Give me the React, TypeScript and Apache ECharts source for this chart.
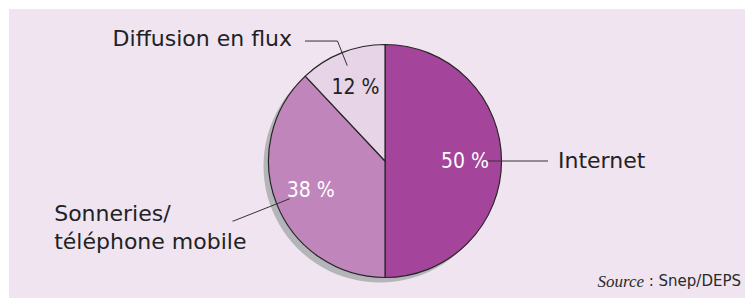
import React, { useEffect, useRef } from 'react';
import * as echarts from 'echarts';

// ---- data ----
const categories = ['Internet', 'Sonneries/\ntéléphone mobile', 'Diffusion en flux'];
const shares = [50, 38, 12];
const sourceItalic = 'Source';
const sourceRest = ' : Snep/DEPS';

// ---- styles / layout ----
const SLICE_COLORS = ['#a4449a', '#c086bc', '#e7d4e7'];
const PCT_COLORS = ['#ffffff', '#ffffff', '#222222'];
const FONT = "'DejaVu Sans', 'Open Sans', sans-serif";
const NUM_FONT = "'DejaVu Sans Condensed', 'Liberation Sans Narrow', 'DejaVu Sans', sans-serif";
const CX = 385;
const CY = 161;
const R = 116.5;
const LEADERS = [
  { length: 10, length2: 50.5, distance: 10, padding: [0, 0, 2, 0] },
  { length: 60.5, length2: 1, distance: -14, padding: [12, 0, 0, 0] },
  { length: 26.5, length2: 32.5, distance: 13, padding: [0, 0, 6, 0] },
];

export default function App() {
  const ref = useRef<HTMLDivElement>(null);
  useEffect(() => {
    if (!ref.current) return;
    const chart = echarts.init(ref.current, undefined, { renderer: 'svg' });
    const nameFormatter = (p: any) =>
      String(p.name)
        .split('\n')
        .map((l: string) => `{l|${l}}`)
        .join('\n');
    const option: any = {
      animation: false,
      backgroundColor: '#ffffff',
      graphic: [
        {
          type: 'rect',
          z: -10,
          silent: true,
          shape: { x: 9, y: 9, width: 736, height: 289 },
          style: { fill: '#f0e4f1' },
        },
        {
          type: 'text',
          z: 10,
          x: 741,
          y: 281,
          silent: true,
          style: {
            text: `{i|${sourceItalic}}${sourceRest}`,
            fontFamily: FONT,
            fontSize: 15,
            fill: '#2a2a2a',
            align: 'right',
            verticalAlign: 'middle',
            rich: {
              i: {
                fontFamily: "'Liberation Serif', serif",
                fontStyle: 'italic',
                fontSize: 17,
                fill: '#2a2a2a',
              },
            },
          },
        },
      ],
      series: [
        {
          type: 'pie',
          name: 'shadow',
          silent: true,
          z: 1,
          center: [CX - 5, CY + 5],
          radius: R,
          label: { show: false },
          labelLine: { show: false },
          itemStyle: { color: '#b4b5b8' },
          data: [{ name: '', value: shares.reduce((a, b) => a + b, 0) }],
        },
        {
          type: 'pie',
          name: 'slices',
          silent: true,
          z: 2,
          center: [CX, CY],
          radius: R,
          startAngle: 90,
          clockwise: true,
          label: { show: false },
          labelLine: { show: false },
          itemStyle: { borderColor: '#262626', borderWidth: 1.2 },
          data: categories.map((n, i) => ({
            name: n,
            value: shares[i],
            itemStyle: { color: SLICE_COLORS[i] },
          })),
        },
        {
          type: 'pie',
          name: 'pct',
          silent: true,
          z: 3,
          center: [CX, CY],
          radius: [R * 0.32, R],
          startAngle: 90,
          clockwise: true,
          avoidLabelOverlap: false,
          itemStyle: { color: 'transparent', borderWidth: 0 },
          label: {
            show: true,
            position: 'inside',
            formatter: (p: any) => `${p.value} %`,
            fontFamily: NUM_FONT,
            fontSize: 21,
          },
          labelLine: { show: false },
          data: categories.map((n, i) => ({
            name: n,
            value: shares[i],
            label: { color: PCT_COLORS[i] },
          })),
        },
        {
          type: 'pie',
          name: 'names',
          silent: true,
          z: 3,
          center: [CX, CY],
          radius: R * 0.88,
          startAngle: 90,
          clockwise: true,
          avoidLabelOverlap: false,
          itemStyle: { color: 'transparent', borderWidth: 0 },
          label: {
            show: true,
            position: 'outside',
            alignTo: 'none',
            formatter: nameFormatter,
            fontFamily: FONT,
            fontSize: 22,
            color: '#222222',
            lineHeight: 28,
            rich: {
              l: {
                align: 'left',
                fontFamily: FONT,
                fontSize: 22,
                color: '#222222',
                lineHeight: 28,
              },
            },
          },
          labelLine: {
            show: true,
            smooth: false,
            minTurnAngle: 0,
            maxSurfaceAngle: 180,
            lineStyle: { color: '#333333', width: 1 },
          },
          data: categories.map((n, i) => ({
            name: n,
            value: shares[i],
            label: {
              distanceToLabelLine: LEADERS[i].distance,
              padding: LEADERS[i].padding,
            },
            labelLine: { length: LEADERS[i].length, length2: LEADERS[i].length2 },
          })),
        },
      ],
    };
    chart.setOption(option);
    return () => chart.dispose();
  }, []);
  return (
    <div
      ref={ref}
      style={{ position: 'fixed', left: 0, top: 0, width: 745, height: 298 }}
    />
  );
}
